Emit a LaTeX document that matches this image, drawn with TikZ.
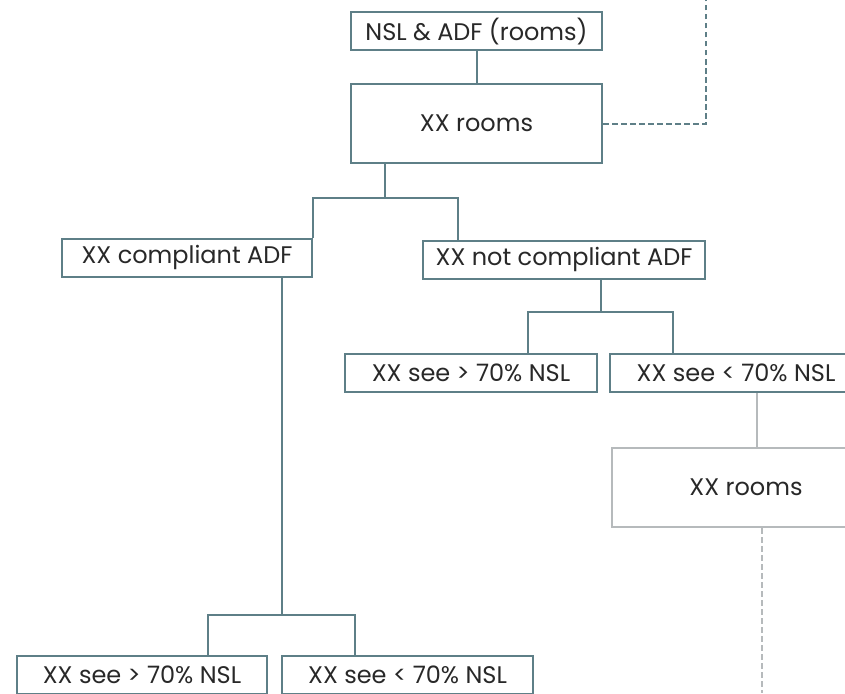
\documentclass[tikz,border=0pt]{standalone}
\usepackage{fontspec}
\setmainfont{Poppins}
\usetikzlibrary{calc}
\definecolor{tealGrey}{RGB}{94,127,135}
\definecolor{lightGrey}{RGB}{182,186,188}
\definecolor{textGrey}{RGB}{40,40,40}
\tikzset{
  box/.style={draw=tealGrey, line width=2pt, fill=white, text=textGrey, inner sep=0pt,
    minimum height=38pt, font=\fontsize{24}{28}\selectfont},
  greybox/.style={box, draw=lightGrey},
  link/.style={tealGrey, line width=2pt},
  greylink/.style={lightGrey, line width=2pt},
  dashlink/.style={dash pattern=on 5.5pt off 3.5pt}
}

\begin{document}
\begin{tikzpicture}[x=1pt,y=-1pt]
    \useasboundingbox (0,0) rectangle (845,693);
    \clip (0,0) rectangle (845,693);

    \node[box, minimum width=251pt] (nsl) at (476.5,31.5) {NSL \& ADF (rooms)};
    \node[box, minimum width=251pt, minimum height=79pt] (rooms) at (476.5,123.5) {XX rooms};
    \node[box, minimum width=250pt] (comp) at (187,257.5) {XX compliant ADF};
    \node[box, minimum width=282pt] (notcomp) at (564,259.5) {XX not compliant ADF};
    \node[box, minimum width=252pt] (seeA) at (471,373) {XX see > 70\% NSL};
    \node[box, minimum width=252pt] (seeB) at (736,373) {XX see < 70\% NSL};
    \node[greybox, minimum width=268pt, minimum height=79pt] (rooms2) at (746,487.5) {XX rooms};
    \node[box, minimum width=250pt] (botA) at (142,675) {XX see > 70\% NSL};
    \node[box, minimum width=251pt] (botB) at (407.5,675) {XX see < 70\% NSL};

    % split points
    \coordinate (split1) at (385,198);
    \coordinate (tapR) at (458,198);
    \coordinate (split2) at (601,312);
    \coordinate (tapA) at (528,312);
    \coordinate (tapB) at (673,312);
    \coordinate (split3) at (282,615);
    \coordinate (tapC) at (208,615);
    \coordinate (tapD) at (355,615);
    \coordinate (drop1) at (757,420);
    \coordinate (drop2) at (762,693);
    \coordinate (corner) at (706,123.5);
    \coordinate (topEnd) at (706,0);

    \draw[link] (nsl) -- (rooms);
    \draw[link] (rooms.south -| split1) -- (split1);
    \draw[link] (comp.north east) |- (tapR) -- (tapR |- notcomp.north);
    \draw[link] (notcomp.south -| split2) -- (split2);
    \draw[link] (seeA.north -| tapA) |- (tapB) -- (tapB |- seeB.north);
    \draw[link] (comp.south -| split3) -- (split3);
    \draw[link] (botA.north -| tapC) |- (tapD) -- (tapD |- botB.north);
    \draw[link, dashlink] (rooms.east) -- (corner) -- (topEnd);

    \draw[greylink] (seeB.south -| drop1) -- (rooms2.north -| drop1);
    \draw[greylink, dashlink] (rooms2.south -| drop2) -- (drop2);
\end{tikzpicture}
\end{document}
